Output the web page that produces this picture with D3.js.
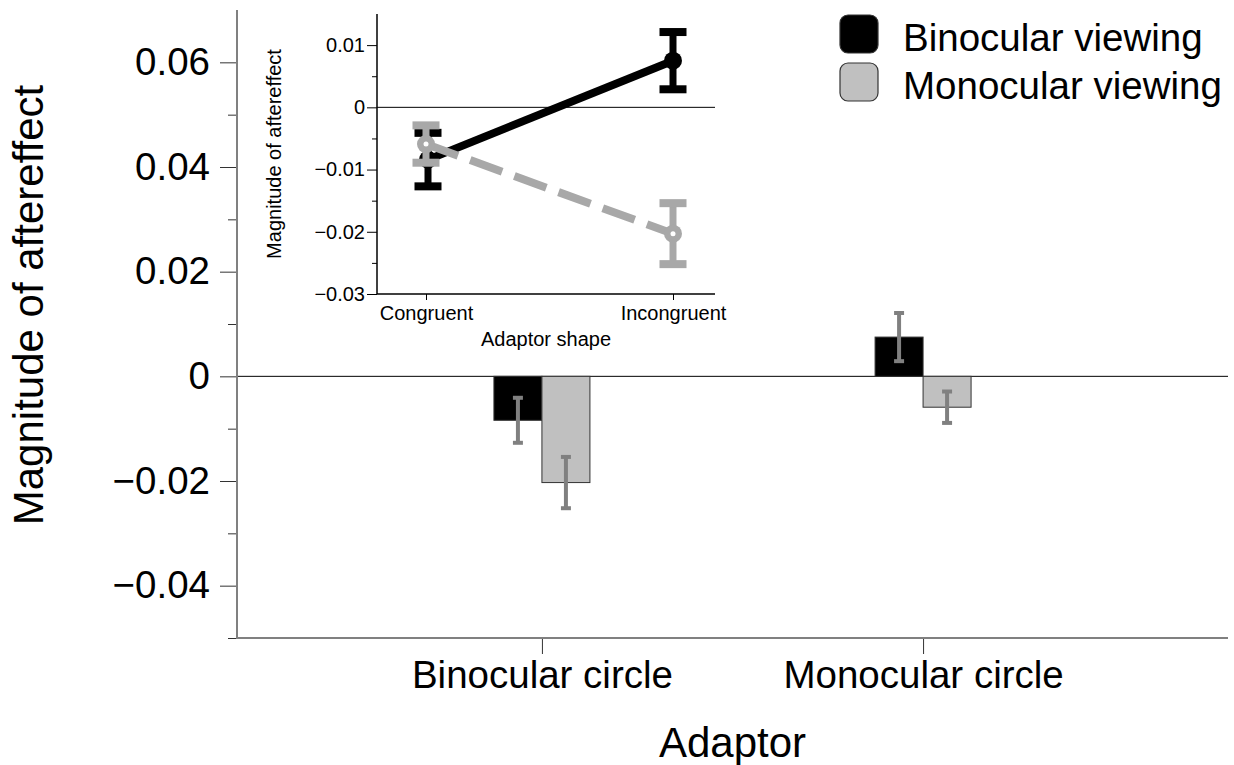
<!DOCTYPE html>
<html>
<head>
<meta charset="utf-8">
<script src="https://cdn.jsdelivr.net/npm/d3@7"></script>
<style>
  body { margin: 0; background: #fff; }
  svg { display: block; font-family: "Liberation Sans", Arial, Helvetica, sans-serif; }
</style>
</head>
<body>
<div id="container"></div>
<script>
// data
const adaptors = ["Binocular circle", "Monocular circle"];
const viewings = ["Binocular viewing", "Monocular viewing"];
const binocularMeans = [-0.0084, 0.0075];
const binocularErrs = [0.0043, 0.0046];
const monocularMeans = [-0.0203, -0.0059];
const monocularErrs = [0.0049, 0.0030];
const shapes = ["Congruent", "Incongruent"];
const mainMajorTicks = [-0.04, -0.02, 0, 0.02, 0.04, 0.06];
const mainMinorTicks = [-0.05, -0.03, -0.01, 0.01, 0.03, 0.05];
const insetMajorTicks = [-0.03, -0.02, -0.01, 0, 0.01];
const insetMinorTicks = [-0.025, -0.015, -0.005, 0.005];

const width = 1234, height = 765;
const fmt = d => d === 0 ? "0" : d3.format(".2f")(d);

const svg = d3.select("#container").append("svg")
  .attr("width", width).attr("height", height);

// ---------- main chart ----------
const y = d3.scaleLinear().domain([-0.05, 0.07]).range([638, 10]);
const x0 = d3.scalePoint().domain(adaptors).range([237, 1228]).padding(0.8);
const x1 = d3.scaleBand().domain(viewings).range([-48, 48]);
const fills = { "Binocular viewing": "#000", "Monocular viewing": "#c0c0c0" };

const rows = [];
adaptors.forEach((a, i) => {
  rows.push({ adaptor: a, viewing: viewings[0], mean: binocularMeans[i], err: binocularErrs[i] });
  rows.push({ adaptor: a, viewing: viewings[1], mean: monocularMeans[i], err: monocularErrs[i] });
});

// zero line
svg.append("line")
  .attr("x1", 237).attr("x2", 1228)
  .attr("y1", y(0)).attr("y2", y(0))
  .attr("stroke", "#000").attr("stroke-width", 1);

svg.append("g").selectAll("rect")
  .data(rows)
  .join("rect")
  .attr("x", d => x0(d.adaptor) + x1(d.viewing))
  .attr("width", x1.bandwidth())
  .attr("y", d => y(Math.max(0, d.mean)))
  .attr("height", d => Math.abs(y(d.mean) - y(0)))
  .attr("fill", d => fills[d.viewing])
  .attr("stroke", "#333")
  .attr("stroke-width", 1);

const eb = svg.append("g").attr("stroke", "#808080").attr("stroke-width", 4);
rows.forEach(d => {
  const cx = x0(d.adaptor) + x1(d.viewing) + x1.bandwidth() / 2;
  eb.append("line").attr("x1", cx).attr("x2", cx)
    .attr("y1", y(d.mean + d.err)).attr("y2", y(d.mean - d.err));
  [d.mean + d.err, d.mean - d.err].forEach(v => {
    eb.append("line").attr("x1", cx - 5).attr("x2", cx + 5)
      .attr("y1", y(v)).attr("y2", y(v));
  });
});

// y axis
svg.append("g").attr("transform", "translate(237,0)")
  .call(d3.axisLeft(y).tickValues(mainMajorTicks).tickFormat(fmt).tickSize(17).tickPadding(10))
  .call(g => g.select(".domain").remove())
  .call(g => g.selectAll("text").attr("font-size", 38.5).attr("fill", "#000").attr("font-family", null))
  .call(g => g.selectAll("line").attr("stroke", "#333"));
svg.append("g").attr("transform", "translate(237,0)")
  .call(d3.axisLeft(y).tickValues(mainMinorTicks).tickFormat("").tickSize(9))
  .call(g => g.select(".domain").remove())
  .call(g => g.selectAll("line").attr("stroke", "#333"));
svg.append("line").attr("x1", 237).attr("x2", 237).attr("y1", 10).attr("y2", 638)
  .attr("stroke", "#808080").attr("stroke-width", 2);

// x axis
svg.append("g").attr("transform", "translate(0,638)")
  .call(d3.axisBottom(x0).tickSize(16).tickPadding(7))
  .call(g => g.select(".domain").remove())
  .call(g => g.selectAll("text").attr("font-size", 38.5).attr("fill", "#000").attr("font-family", null))
  .call(g => g.selectAll("line").attr("stroke", "#333"));
svg.append("line").attr("x1", 236).attr("x2", 1228).attr("y1", 638).attr("y2", 638)
  .attr("stroke", "#808080").attr("stroke-width", 2);

svg.append("text")
  .attr("x", (x0(adaptors[0]) + x0(adaptors[1])) / 2).attr("y", 757)
  .attr("text-anchor", "middle").attr("font-size", 42)
  .text("Adaptor");

svg.append("text")
  .attr("transform", "translate(43,305) rotate(-90)")
  .attr("text-anchor", "middle").attr("font-size", 42)
  .text("Magnitude of aftereffect");

// legend
const legend = svg.append("g").attr("transform", "translate(840,15)");
viewings.forEach((v, i) => {
  const g = legend.append("g").attr("transform", `translate(0,${i * 48})`);
  g.append("rect").attr("width", 38).attr("height", 38).attr("rx", 8)
    .attr("fill", fills[v]).attr("stroke", "#333").attr("stroke-width", 1.2);
  g.append("text").attr("x", 63).attr("y", 36).attr("font-size", 38.5).text(v);
});

// ---------- inset ----------
const iy = d3.scaleLinear().domain([-0.03, 0.015]).range([294, 14]);
const ix = d3.scalePoint().domain(shapes).range([426, 673]);
const inset = svg.append("g");
const insetGray = "#a8a8a8";

inset.append("line").attr("x1", 377).attr("x2", 715).attr("y1", iy(0)).attr("y2", iy(0))
  .attr("stroke", "#000").attr("stroke-width", 1);

inset.append("g").attr("transform", "translate(377,0)")
  .call(d3.axisLeft(iy).tickValues(insetMajorTicks).tickFormat(fmt).tickSize(10).tickPadding(2))
  .call(g => g.select(".domain").remove())
  .call(g => g.selectAll("text").attr("font-size", 20).attr("fill", "#000").attr("font-family", null))
  .call(g => g.selectAll("line").attr("stroke", "#000"));
inset.append("g").attr("transform", "translate(377,0)")
  .call(d3.axisLeft(iy).tickValues(insetMinorTicks).tickFormat("").tickSize(5))
  .call(g => g.select(".domain").remove())
  .call(g => g.selectAll("line").attr("stroke", "#000"));
inset.append("line").attr("x1", 377).attr("x2", 377).attr("y1", 14).attr("y2", 294)
  .attr("stroke", "#000").attr("stroke-width", 1.5);

inset.append("g").attr("transform", "translate(0,294)")
  .call(d3.axisBottom(ix).tickSize(6).tickPadding(6))
  .call(g => g.select(".domain").remove())
  .call(g => g.selectAll("text").attr("font-size", 20).attr("fill", "#000").attr("font-family", null))
  .call(g => g.selectAll("line").attr("stroke", "#000"));
inset.append("line").attr("x1", 377).attr("x2", 715).attr("y1", 294).attr("y2", 294)
  .attr("stroke", "#000").attr("stroke-width", 1.5);

inset.append("text").attr("x", 546).attr("y", 346)
  .attr("text-anchor", "middle").attr("font-size", 20).text("Adaptor shape");
inset.append("text").attr("transform", "translate(281,154) rotate(-90)")
  .attr("text-anchor", "middle").attr("font-size", 20).text("Magnitude of aftereffect");

// congruent = adaptor matches viewing
const insetSeries = [
  { color: "#000", dash: null, means: [binocularMeans[0], binocularMeans[1]], errs: [binocularErrs[0], binocularErrs[1]], dx: 2 },
  { color: insetGray, dash: "34,13", means: [monocularMeans[1], monocularMeans[0]], errs: [monocularErrs[1], monocularErrs[0]], dx: 0 }
];

const line = d3.line().x(d => d[0]).y(d => d[1]);
insetSeries.forEach((s, k) => {
  const pts = shapes.map((sh, i) => [ix(sh) + (i === 0 ? s.dx : 0), iy(s.means[i])]);
  const g = inset.append("g");
  shapes.forEach((sh, i) => {
    const cx = pts[i][0];
    g.append("line").attr("x1", cx).attr("x2", cx)
      .attr("y1", iy(s.means[i] + s.errs[i])).attr("y2", iy(s.means[i] - s.errs[i]))
      .attr("stroke", s.color).attr("stroke-width", 7);
    [s.means[i] + s.errs[i], s.means[i] - s.errs[i]].forEach(v => {
      g.append("rect").attr("x", cx - 13.5).attr("y", iy(v) - 4)
        .attr("width", 27).attr("height", 8).attr("fill", s.color);
    });
  });
  g.append("path").datum(pts).attr("d", line)
    .attr("fill", "none").attr("stroke", s.color).attr("stroke-width", 8)
    .attr("stroke-dasharray", s.dash);
  pts.forEach(p => {
    g.append("circle").attr("cx", p[0]).attr("cy", p[1]).attr("r", 9).attr("fill", s.color);
    if (k === 1) g.append("circle").attr("cx", p[0]).attr("cy", p[1]).attr("r", 2.5).attr("fill", "#fff");
  });
});
</script>
</body>
</html>
